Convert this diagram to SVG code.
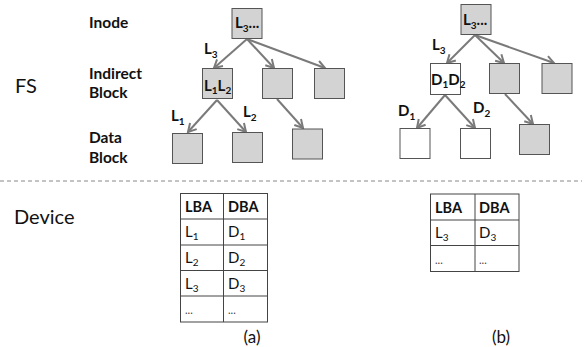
<svg xmlns="http://www.w3.org/2000/svg" width="584" height="347" viewBox="0 0 584 347">
<defs>
<marker id="arr" markerUnits="userSpaceOnUse" markerWidth="12" markerHeight="12" viewBox="0 0 12 12" refX="10" refY="6" orient="auto">
<path d="M2,1.5 L10,6 L2,10.5" fill="none" stroke="#7a7a7a" stroke-width="2"/>
</marker>
</defs>
<style>
text{font-family:Lato,"Open Sans","Liberation Sans",sans-serif;fill:#111}
.lbl{font-size:15.5px;font-weight:bold}
.big{font-size:20px}
.bx{fill:#d3d3d3;stroke:#555;stroke-width:1}
.wb{fill:#fff;stroke:#555;stroke-width:1}
.bt{font-size:15px;font-weight:bold}
.sub{font-size:10px}
.edge{stroke:#7a7a7a;stroke-width:2;fill:none;marker-end:url(#arr)}
.tb{fill:#fff;stroke:#444;stroke-width:1}
.th{font-size:14.5px;font-weight:bold}
.td{font-size:15px}
.dots{font-size:11px;fill:#444}
.cap{font-size:17px}
</style>
<rect width="584" height="347" fill="#fff"/>
<g id="labels">
<text class="lbl" x="89" y="28">Inode</text>
<text class="lbl" x="89" y="79">Indirect</text>
<text class="lbl" x="89" y="98">Block</text>
<text class="lbl" x="89" y="143">Data</text>
<text class="lbl" x="89" y="163">Block</text>
<text class="big" x="15" y="93">FS</text>
<text class="big" x="14" y="224">Device</text>
</g>
<line x1="0" y1="181" x2="582" y2="181" stroke="#888" stroke-width="1" stroke-dasharray="4 3"/>
<g id="connectors">
<line class="edge" x1="247" y1="39" x2="214" y2="68"/>
<line class="edge" x1="247" y1="39" x2="274" y2="68"/>
<line class="edge" x1="247" y1="39" x2="325" y2="68"/>
<line class="edge" x1="217" y1="100" x2="188" y2="132"/>
<line class="edge" x1="217" y1="100" x2="246" y2="132"/>
<line class="edge" x1="277" y1="99" x2="303" y2="128"/>
<line class="edge" x1="475" y1="35" x2="447" y2="63"/>
<line class="edge" x1="475" y1="35" x2="504" y2="63"/>
<line class="edge" x1="475" y1="35" x2="554" y2="63"/>
<line class="edge" x1="445" y1="95" x2="417" y2="128"/>
<line class="edge" x1="445" y1="95" x2="475" y2="128"/>
<line class="edge" x1="505" y1="94" x2="533" y2="124"/>
<text class="bt" x="204" y="54">L<tspan class="sub" dy="4">3</tspan></text>
<text class="bt" x="171" y="121">L<tspan class="sub" dy="4">1</tspan></text>
<text class="bt" x="243" y="117">L<tspan class="sub" dy="4">2</tspan></text>
<text class="bt" x="432" y="50">L<tspan class="sub" dy="4">3</tspan></text>
<text class="bt" x="398" y="116">D<tspan class="sub" dy="4">1</tspan></text>
<text class="bt" x="473" y="113">D<tspan class="sub" dy="4">2</tspan></text>
</g>
<g id="inode-a"><rect class="bx" x="232" y="8.5" width="30" height="30"/><text class="bt" x="235" y="28">L<tspan class="sub" dy="4">3</tspan><tspan dy="-4">...</tspan></text></g>
<g id="ind-a1"><rect class="bx" x="202.5" y="68.5" width="30" height="30"/><text class="bt" x="204" y="91">L<tspan class="sub" dy="3">1</tspan><tspan dy="-3">L</tspan><tspan class="sub" dy="3">2</tspan></text></g>
<g id="ind-a2"><rect class="bx" x="262.5" y="68.5" width="30" height="30"/></g>
<g id="ind-a3"><rect class="bx" x="314.5" y="68.5" width="30" height="30"/></g>
<g id="data-a1"><rect class="bx" x="172.5" y="133.5" width="30" height="30"/></g>
<g id="data-a2"><rect class="bx" x="232.5" y="132.5" width="30" height="30"/></g>
<g id="data-a3"><rect class="bx" x="292.5" y="129" width="30" height="30"/></g>
<g id="inode-b"><rect class="bx" x="461" y="4.5" width="30" height="30"/><text class="bt" x="463" y="25">L<tspan class="sub" dy="4">3</tspan><tspan dy="-4">...</tspan></text></g>
<g id="ind-b1"><rect class="wb" x="430.5" y="63.5" width="30" height="31"/><text class="bt" x="431" y="85">D<tspan class="sub" dy="3">1</tspan><tspan dy="-3">D</tspan><tspan class="sub" dy="3">2</tspan></text></g>
<g id="ind-b2"><rect class="bx" x="489.5" y="63.5" width="30" height="30"/></g>
<g id="ind-b3"><rect class="bx" x="542" y="63.5" width="30" height="30"/></g>
<g id="data-b1"><rect class="wb" x="400" y="128.5" width="30" height="30"/></g>
<g id="data-b2"><rect class="wb" x="460.5" y="128.5" width="30" height="30"/></g>
<g id="data-b3"><rect class="bx" x="519.5" y="124.5" width="30" height="30"/></g>
<g id="table-a">
<rect class="tb" x="180.5" y="193.5" width="87" height="128.5"/>
<line x1="223.5" y1="193.5" x2="223.5" y2="322" stroke="#444"/>
<line x1="180.5" y1="219" x2="267.5" y2="219" stroke="#444"/>
<line x1="180.5" y1="245" x2="267.5" y2="245" stroke="#444"/>
<line x1="180.5" y1="270.5" x2="267.5" y2="270.5" stroke="#444"/>
<line x1="180.5" y1="296" x2="267.5" y2="296" stroke="#444"/>
<text class="th" x="185" y="211.5">LBA</text><text class="th" x="228" y="211.5">DBA</text>
<text class="td" x="185" y="237">L<tspan class="sub" dy="3">1</tspan></text><text class="td" x="228" y="237">D<tspan class="sub" dy="3">1</tspan></text>
<text class="td" x="185" y="263">L<tspan class="sub" dy="3">2</tspan></text><text class="td" x="228" y="263">D<tspan class="sub" dy="3">2</tspan></text>
<text class="td" x="185" y="288.5">L<tspan class="sub" dy="3">3</tspan></text><text class="td" x="228" y="288.5">D<tspan class="sub" dy="3">3</tspan></text>
<text class="dots" x="185" y="314">...</text><text class="dots" x="228" y="314">...</text>
</g>
<g id="table-b">
<rect class="tb" x="430.5" y="194" width="88.5" height="77.5"/>
<line x1="475" y1="194" x2="475" y2="271.5" stroke="#444"/>
<line x1="430.5" y1="220" x2="519" y2="220" stroke="#444"/>
<line x1="430.5" y1="245.5" x2="519" y2="245.5" stroke="#444"/>
<text class="th" x="435" y="212.5">LBA</text><text class="th" x="479" y="212.5">DBA</text>
<text class="td" x="435" y="238">L<tspan class="sub" dy="3">3</tspan></text><text class="td" x="479" y="238">D<tspan class="sub" dy="3">3</tspan></text>
<text class="dots" x="435" y="263.5">...</text><text class="dots" x="479" y="263.5">...</text>
</g>
<g id="captions">
<text class="cap" x="252" y="342.5" text-anchor="middle">(a)</text>
<text class="cap" x="501" y="342.5" text-anchor="middle">(b)</text>
</g>
</svg>
